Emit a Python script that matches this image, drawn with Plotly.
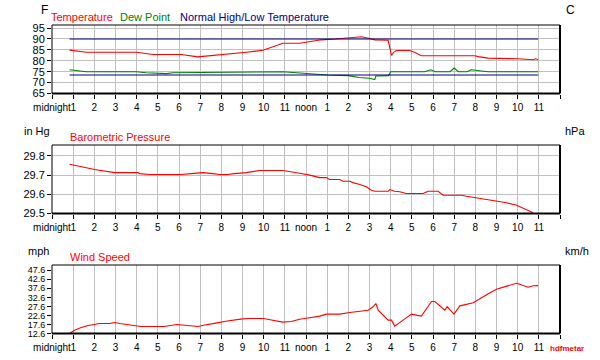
import plotly.graph_objects as go

# ---------------- data ----------------
hour_ticks = list(range(0, 25))
hour_labels = ["midnight"] + [str(i) for i in range(1, 12)] + ["noon"] + [str(i) for i in range(1, 12)] + [""]

temp_hours = [0.83, 1.14, 1.62, 3.98, 4.45, 4.77, 6.11, 6.58, 6.89, 7.13, 7.60, 8.39, 9.18, 9.97,
              10.91, 11.70, 12.33, 12.73, 13.4, 14.07, 14.62, 15.01, 15.25, 15.88, 16.04, 16.15,
              16.27, 16.90, 17.15, 17.45, 17.93, 18.95, 19.98, 20.13, 20.61, 22.02, 22.73, 22.85, 22.97]
temp_f = [84.9, 84.5, 83.9, 83.9, 83.4, 82.9, 82.9, 82.3, 81.8, 82.0, 82.4, 83.1, 83.9, 84.8,
          88.0, 88.0, 88.9, 89.6, 90.0, 90.4, 91.0, 90.2, 89.6, 89.4, 82.5, 84.0,
          84.7, 84.7, 83.8, 82.3, 82.3, 82.5, 82.3, 81.9, 81.2, 80.9, 80.5, 80.9, 80.5]

dew_hours = [0.83, 1.14, 1.62, 3.98, 4.45, 5.40, 5.72, 10.91, 11.70, 12.0, 13.0, 14.0, 14.5, 15.0,
             15.25, 15.3, 15.9, 16.0, 17.6, 17.9, 18.1, 18.8, 19.0, 19.2, 19.6, 19.8, 20.1, 20.6, 22.97]
dew_f = [75.9, 75.45, 75.0, 75.0, 74.5, 74.1, 74.5, 75.0, 74.5, 74.1, 73.5, 73.2, 72.3, 72.0,
         71.4, 73.0, 73.2, 75.0, 75.0, 75.9, 75.0, 75.0, 76.7, 75.0, 75.0, 75.9, 75.5, 75.0, 75.0]

normal_hours = [0.83, 22.97]
normal_high_f = [90.0, 90.0]
normal_low_f = [73.5, 73.5]

temp_ticks_f = [65, 70, 75, 80, 85, 90, 95]
temp_ticks_c = ["18", "21", "24", "27", "29", "32", "35"]

press_hours = [0.83, 1.22, 1.62, 2.01, 2.40, 2.72, 2.96, 4.06, 4.14, 4.61, 6.11, 6.58, 7.13, 7.60,
               7.9, 8.3, 8.6, 9.18, 9.65, 9.8, 10.91, 11.23, 11.70, 12.17, 12.65, 12.96, 13.12,
               13.59, 13.75, 14.07, 14.22, 14.54, 14.85, 15.09, 15.25, 15.88, 15.96, 16.19, 16.43,
               16.74, 17.53, 17.77, 18.24, 18.48, 19.35, 19.58, 20.06, 20.53, 21.0, 21.48, 21.95,
               22.19, 22.42, 22.73]
press_inhg = [29.757, 29.746, 29.738, 29.729, 29.722, 29.717, 29.713, 29.713, 29.708, 29.703,
              29.703, 29.708, 29.713, 29.708, 29.703, 29.703, 29.708, 29.713, 29.719, 29.724,
              29.724, 29.719, 29.710, 29.700, 29.687, 29.687, 29.677, 29.677, 29.668, 29.668,
              29.661, 29.651, 29.639, 29.621, 29.616, 29.616, 29.625, 29.616, 29.613, 29.604,
              29.604, 29.616, 29.616, 29.595, 29.595, 29.590, 29.582, 29.573, 29.564, 29.556,
              29.543, 29.531, 29.518, 29.504]
press_ticks = [29.5, 29.6, 29.7, 29.8]
press_tick_text = ["29.5", "29.6", "29.7", "29.8"]
press_ticks_hpa = ["999", "1002", "1006", "1009"]

wind_hours = [0.83, 1.06, 1.38, 1.70, 2.01, 2.25, 2.72, 2.96, 3.2, 3.5, 3.9, 4.2, 5.3, 5.5, 5.9,
              6.3, 6.6, 6.9, 7.1, 7.4, 7.8, 8.2, 8.6, 9.0, 9.3, 10.0, 10.3, 10.6, 10.9, 11.3, 11.6,
              11.70, 12.17, 12.65, 12.96, 13.59, 14.07, 14.54, 14.93, 15.17, 15.30, 15.41, 15.88,
              16.04, 16.19, 16.59, 16.98, 17.45, 17.93, 18.09, 18.56, 18.67, 18.99, 19.27, 19.90,
              20.53, 21.0, 21.48, 21.95, 22.50, 22.73, 22.97]
wind_mph = [12.6, 14.4, 15.9, 17.0, 17.6, 18.1, 18.1, 18.7, 18.1, 17.6, 16.8, 16.5, 16.5, 17.0, 17.6,
            17.2, 17.0, 16.5, 17.0, 17.8, 18.5, 19.4, 20.2, 20.7, 20.9, 20.9, 20.2, 19.6, 18.9, 19.2, 20.0,
            20.5, 21.3, 22.2, 23.3, 23.3, 24.2, 24.8, 25.5, 27.4, 29.2, 25.5, 20.0,
            20.0, 16.7, 20.0, 23.3, 22.2, 30.3, 30.3, 25.5, 27.4, 23.3, 27.9, 29.6,
            34.0, 37.1, 38.8, 40.4, 38.2, 39.0, 39.1]
wind_ticks = [12.6, 17.6, 22.6, 27.6, 32.6, 37.6, 42.6, 47.6]
wind_tick_text = ["12.6", "17.6", "22.6", "27.6", "32.6", "37.6", "42.6", "47.6"]
wind_ticks_kmh = ["19", "27", "35", "43", "52", "60", "68", "76"]

# ---------------- styling ----------------
FONT = "Liberation Sans, Arial, sans-serif"
RED = "#ff0000"
GREEN = "#008000"
NAVY = "#000080"
GRID = "#c0c0c0"
W, H = 600, 360

def px_x(x):
    return x / W

def px_y(y):
    return 1 - y / H

x_dom = [px_x(52), px_x(560)]
panels = [  # (top px, bottom px)
    (25, 93.5),
    (145, 213.5),
    (265, 333.5),
]
y_doms = [[px_y(b), px_y(t)] for t, b in panels]

fig = go.Figure()

fig.add_trace(go.Scatter(x=temp_hours, y=temp_f, mode="lines", line=dict(color=RED, width=1.1),
                         xaxis="x", yaxis="y"))
fig.add_trace(go.Scatter(x=dew_hours, y=dew_f, mode="lines", line=dict(color=GREEN, width=1.1),
                         xaxis="x", yaxis="y"))
fig.add_trace(go.Scatter(x=normal_hours, y=normal_high_f, mode="lines", line=dict(color=NAVY, width=1.1),
                         xaxis="x", yaxis="y"))
fig.add_trace(go.Scatter(x=normal_hours, y=normal_low_f, mode="lines", line=dict(color=NAVY, width=1.1),
                         xaxis="x", yaxis="y"))
fig.add_trace(go.Scatter(x=press_hours, y=press_inhg, mode="lines", line=dict(color=RED, width=1.1),
                         xaxis="x2", yaxis="y2"))
fig.add_trace(go.Scatter(x=wind_hours, y=wind_mph, mode="lines", line=dict(color=RED, width=1.1),
                         xaxis="x3", yaxis="y3"))

xcommon = dict(range=[0, 24], domain=x_dom, tickmode="array", tickvals=hour_ticks, ticktext=hour_labels,
               showgrid=True, gridcolor=GRID, gridwidth=1, ticks="outside", ticklen=4, tickcolor="black",
               showline=False, zeroline=False, tickangle=0, automargin=False,
               tickfont=dict(size=10, color="black", family=FONT), fixedrange=True)

def ycommon(rng, dom, vals, text, grid, size=11):
    return dict(range=rng, domain=dom, tickmode="array", tickvals=vals, ticktext=text,
                showgrid=grid, gridcolor=GRID, gridwidth=1, ticks="outside", ticklen=4,
                tickcolor="black", showline=False, zeroline=False, automargin=False,
                tickfont=dict(size=size, color="black", family=FONT), fixedrange=True)

temp_range = [65, 96.4]
press_range = [29.5, 29.857]
wind_range = [12.6, 50.5]

fig.update_layout(
    width=W, height=H, autosize=False,
    margin=dict(l=0, r=0, t=0, b=0, autoexpand=False),
    paper_bgcolor="white", plot_bgcolor="white",
    showlegend=False,
    font=dict(family=FONT, size=11, color="black"),
    xaxis=dict(anchor="y", **xcommon),
    xaxis2=dict(anchor="y2", **xcommon),
    xaxis3=dict(anchor="y3", **xcommon),
    yaxis=dict(anchor="x", **ycommon(temp_range, y_doms[0], temp_ticks_f, [str(v) for v in temp_ticks_f], True)),
    yaxis2=dict(anchor="x2", **ycommon(press_range, y_doms[1], press_ticks, press_tick_text, True)),
    yaxis3=dict(anchor="x3", **ycommon(wind_range, y_doms[2], wind_ticks, wind_tick_text, False, 9)),
    yaxis4=dict(anchor="x", overlaying="y", side="right",
                **ycommon(temp_range, y_doms[0], temp_ticks_f, temp_ticks_c, False)),
    yaxis5=dict(anchor="x2", overlaying="y2", side="right",
                **ycommon(press_range, y_doms[1], press_ticks, press_ticks_hpa, False)),
    yaxis6=dict(anchor="x3", overlaying="y3", side="right",
                **ycommon(wind_range, y_doms[2], wind_ticks, wind_ticks_kmh, False, 9)),
)

shapes = []
for xa, ya in [("x", "y"), ("x2", "y2"), ("x3", "y3")]:
    xr, yr = xa + " domain", ya + " domain"
    shapes.append(dict(type="line", xref=xr, yref=yr, x0=0, x1=0, y0=0, y1=1, line=dict(color="black", width=1)))
    shapes.append(dict(type="line", xref=xr, yref=yr, x0=0, x1=1, y0=1, y1=1, line=dict(color="black", width=1)))
    shapes.append(dict(type="line", xref=xr, yref=yr, x0=1, x1=1, y0=0, y1=1, line=dict(color="black", width=2)))
    shapes.append(dict(type="line", xref=xr, yref=yr, x0=0, x1=1, y0=0, y1=0, line=dict(color="black", width=2)))
fig.update_layout(shapes=shapes)

def label(text, x, y, color="black", size=11, anchor="left", bold=False):
    fig.add_annotation(text=("<b>%s</b>" % text) if bold else text, xref="paper", yref="paper",
                       x=px_x(x), y=px_y(y), xanchor=anchor, yanchor="middle", showarrow=False,
                       font=dict(family=FONT, size=size, color=color))

label("F", 39, 10, size=12)
label("C", 564, 10, size=12)
label("Temperature", 49, 17, RED, 11)
label("Dew Point", 118, 17, GREEN, 11)
label("Normal High/Low Temperature", 178, 17, NAVY, 11)

label("in Hg", 22, 131)
label("hPa", 563, 131)
label("Barometric Pressure", 68, 137, RED, 11)

label("mph", 26, 251)
label("km/h", 563, 251)
label("Wind Speed", 68, 257, RED, 11)

label("hdfmetar", 548, 348, RED, 8, bold=True)

fig.write_html("out.html", config={"displayModeBar": False, "staticPlot": True},
               post_script="document.body.style.margin='0';")
